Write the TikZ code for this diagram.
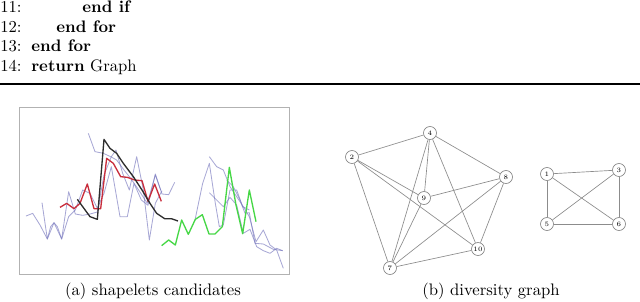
\documentclass[tikz,border=0pt]{standalone}
\usetikzlibrary{positioning}
\definecolor{candblue}{RGB}{120,120,190}
\definecolor{candred}{RGB}{200,45,60}
\definecolor{candblack}{RGB}{45,45,45}
\definecolor{candgreen}{RGB}{70,215,70}
\begin{document}
\begin{tikzpicture}[
  x=0.6pt,y=-0.6pt,
  algline/.style={anchor=base west,inner sep=0pt},
  caption/.style={anchor=base,inner sep=0pt},
  vertex/.style={draw=black!50,circle,minimum size=7.8pt,inner sep=0pt,fill=white,font=\fontsize{4}{5}\selectfont},
  link/.style={draw=black!45,line width=0.4pt},
  faint/.style={candblue,line width=0.5pt,opacity=0.65,line join=round},
  picked/.style={line width=0.8pt,line join=round}
]
  \useasboundingbox (0,0) rectangle (640,301);

  \node[algline] (num11) at (0,12.5) {11:};
  \node[algline] (code11) at (82,12.5) {\textbf{end if}};
  \node[algline] (num12) at (0,32) {12:};
  \node[algline] (code12) at (56,32) {\textbf{end for}};
  \node[algline] (num13) at (0,51.5) {13:};
  \node[algline] (code13) at (31,51.5) {\textbf{end for}};
  \node[algline] (num14) at (0,71) {14:};
  \node[algline] (code14) at (31,71) {\textbf{return} Graph};
  \draw[line width=1.6pt] (0,84) -- (640,84);

  \begin{scope}[shift={(10,90)},x=0.2pt,y=-0.2pt]
    \draw[black!30,line width=0.6pt] (28,52) rectangle (838,553);
    \draw[faint] (48,378) -- (68,370) -- (90,405) -- (112,447) -- (132,398) -- (155,447) -- (176,305) -- (196,372) -- (218,376) -- (240,372) -- (262,366) -- (282,255) -- (304,200) -- (318,180) -- (338,250) -- (358,300) -- (380,200) -- (400,300) -- (418,450) -- (436,340) -- (456,302);
    \draw[faint] (96,338) -- (112,447) -- (122,410) -- (132,398) -- (142,410) -- (155,447) -- (176,380) -- (196,360) -- (218,300) -- (240,310) -- (262,355) -- (282,310) -- (304,230) -- (330,380) -- (352,380) -- (372,280) -- (394,330) -- (414,346) -- (436,252) -- (456,312) -- (476,314) -- (494,277);
    \draw[faint] (235,130) -- (255,185) -- (280,190) -- (302,200) -- (320,210) -- (342,240) -- (362,265) -- (386,300) -- (412,340) -- (436,255) -- (452,300);
    \draw[faint] (555,390) -- (578,280) -- (598,220) -- (616,340) -- (628,410) -- (640,405) -- (660,300) -- (680,300) -- (698,350) -- (718,360);
    \draw[faint] (598,200) -- (620,230) -- (640,240) -- (660,290) -- (680,320) -- (700,350) -- (718,380) -- (738,455) -- (760,420) -- (780,465) -- (800,480) -- (820,535);
    \draw[faint] (598,308) -- (620,330) -- (640,350) -- (660,322) -- (680,345) -- (700,430) -- (720,418) -- (740,470) -- (760,482) -- (780,490) -- (800,475) -- (818,482);
    \draw[faint] (650,270) -- (670,290) -- (690,330) -- (705,370) -- (718,368) -- (735,460) -- (760,462) -- (790,478) -- (818,482);
    \draw[picked,candred] (150,352) -- (170,340) -- (192,356) -- (210,340) -- (232,282) -- (252,356) -- (272,356) -- (290,205) -- (310,220) -- (332,260) -- (352,262) -- (374,270) -- (396,272) -- (414,334) -- (434,282) -- (454,334);
    \draw[picked,candblack] (202,328) -- (240,380) -- (262,388) -- (282,148) -- (300,175) -- (320,190) -- (340,220) -- (370,260) -- (396,300) -- (420,340) -- (440,370) -- (464,386) -- (484,386) -- (504,393);
    \draw[picked,candgreen] (455,467) -- (476,450) -- (496,465) -- (515,390) -- (535,433) -- (556,388) -- (577,374) -- (597,432) -- (615,432) -- (637,410) -- (658,232) -- (678,345) -- (698,431) -- (718,300) -- (738,395);
  \end{scope}

  \node[vertex] (v4) at (430,133) {4};
  \node[vertex] (v2) at (352,157) {2};
  \node[vertex] (v8) at (506,177) {8};
  \node[vertex] (v9) at (424,198) {9};
  \node[vertex] (v10) at (478,249) {10};
  \node[vertex] (v7) at (390,268) {7};

  \node[vertex] (v1) at (547,174) {1};
  \node[vertex] (v3) at (619,170) {3};
  \node[vertex] (v5) at (547,224) {5};
  \node[vertex] (v6) at (619,224) {6};

  \path[link]
    (v2) edge (v4) (v4) edge (v8) (v2) edge (v9) (v2) edge (v10) (v2) edge (v7)
    (v4) edge (v9) (v4) edge (v7) (v4) edge (v10) (v9) edge (v8) (v9) edge (v7)
    (v8) edge (v7) (v8) edge (v10) (v7) edge (v10)
    (v1) edge (v3) (v1) edge (v5) (v1) edge (v6) (v3) edge (v5) (v3) edge (v6) (v5) edge (v6);

  \node[caption] (capa) at (153,295) {(a) shapelets candidates};
  \node[caption] (capb) at (491,295) {(b) diversity graph};
\end{tikzpicture}
\end{document}
